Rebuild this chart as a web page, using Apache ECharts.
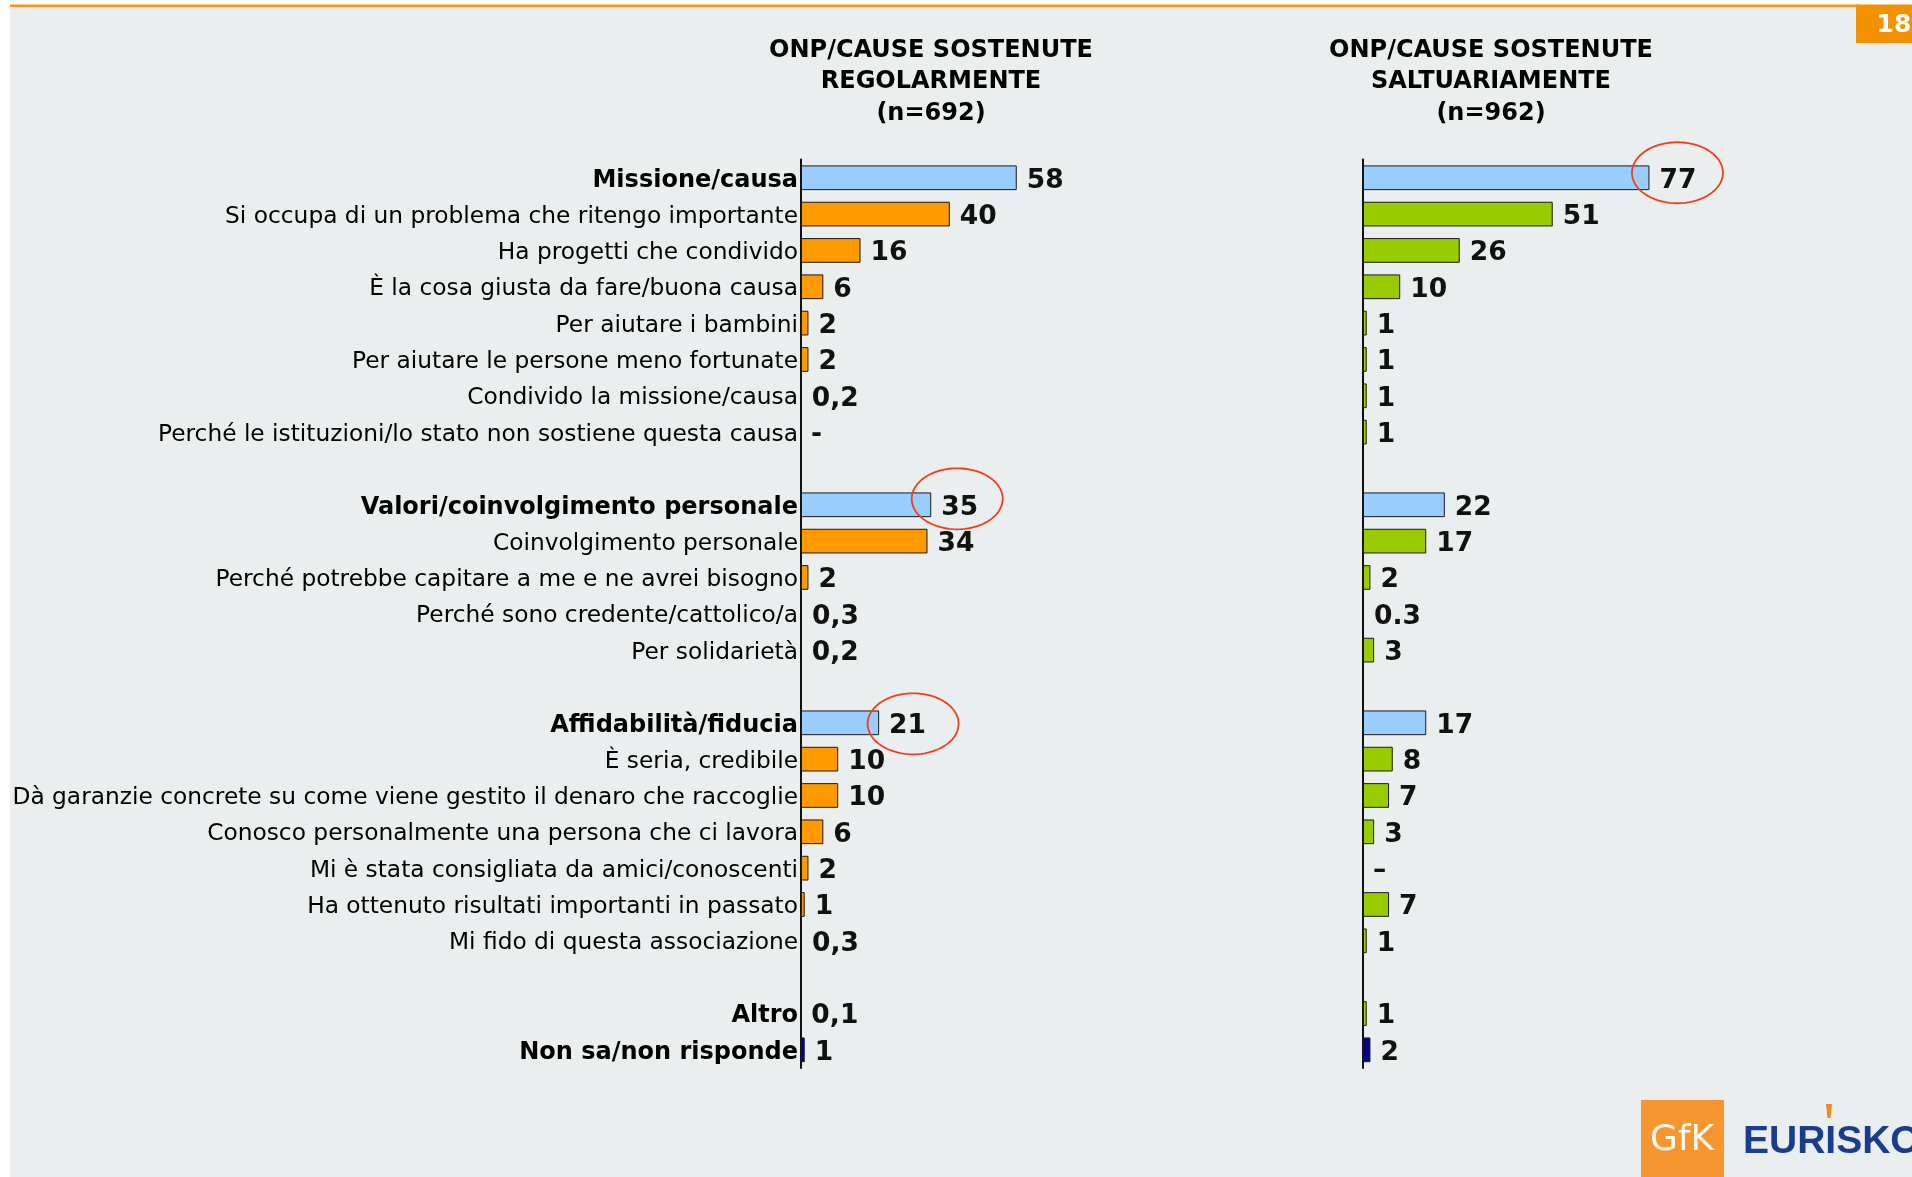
<!DOCTYPE html>
<html>
<head>
<meta charset="utf-8">
<script src="https://cdn.jsdelivr.net/npm/echarts@6/dist/echarts.min.js"></script>
<style>
html,body{margin:0;padding:0;background:#ffffff;}
#chart{width:1912px;height:1177px;}
</style>
</head>
<body>
<div id="chart"></div>
<script>
// ---- data ----
const categories = [
  'Missione/causa',
  'Si occupa di un problema che ritengo importante',
  'Ha progetti che condivido',
  'È la cosa giusta da fare/buona causa',
  'Per aiutare i bambini',
  'Per aiutare le persone meno fortunate',
  'Condivido la missione/causa',
  'Perché le istituzioni/lo stato non sostiene questa causa',
  ' ',
  'Valori/coinvolgimento personale',
  'Coinvolgimento personale',
  'Perché potrebbe capitare a me e ne avrei bisogno',
  'Perché sono credente/cattolico/a',
  'Per solidarietà',
  '  ',
  'Affidabilità/fiducia',
  'È seria, credibile',
  'Dà garanzie concrete su come viene gestito il denaro che raccoglie',
  'Conosco personalmente una persona che ci lavora',
  'Mi è stata consigliata da amici/conoscenti',
  'Ha ottenuto risultati importanti in passato',
  'Mi fido di questa associazione',
  '   ',
  'Altro',
  'Non sa/non risponde'
];
const boldCategories = ['Missione/causa', 'Valori/coinvolgimento personale', 'Affidabilità/fiducia', 'Altro', 'Non sa/non risponde'];
const groupHeaders = ['Missione/causa', 'Valori/coinvolgimento personale', 'Affidabilità/fiducia'];
const noAnswerCategory = 'Non sa/non risponde';

const regolarmente   = [58, 40, 16, 6, 2, 2, 0.2, 0, null, 35, 34, 2, 0.3, 0.2, null, 21, 10, 10, 6, 2, 1, 0.3, null, 0.1, 1];
const saltuariamente = [77, 51, 26, 10, 1, 1, 1, 1, null, 22, 17, 2, 0.3, 3, null, 17, 8, 7, 3, 0, 7, 1, null, 1, 2];

const panelTitles = ['ONP/CAUSE SOSTENUTE\nREGOLARMENTE\n(n=692)', 'ONP/CAUSE SOSTENUTE\nSALTUARIAMENTE\n(n=962)'];
const highlighted = [
  {panel: 1, category: 'Missione/causa'},
  {panel: 0, category: 'Valori/coinvolgimento personale'},
  {panel: 0, category: 'Affidabilità/fiducia'}
];
const pageNumber = '18';

// ---- styling / layout ----
const FONT = '"DejaVu Sans", Verdana, sans-serif';
const BLUE = '#99CCFF', ORANGE = '#FF9900', GREEN = '#99CC00', NAVY = '#000080';
const gridTop = 159.6, gridHeight = 908.4, axisMax = 100, plotWidth = 372;
const panels = [
  {left: 801, color: ORANGE, values: regolarmente, decimal: ',', dash: '-', showLabels: true},
  {left: 1363, color: GREEN, values: saltuariamente, decimal: '.', dash: '–', showLabels: false}
];

function buildData(p) {
  return p.values.map((v, i) => {
    if (v === null) return {value: null};
    const cat = categories[i];
    let color = p.color;
    if (groupHeaders.includes(cat)) color = BLUE;
    if (cat === noAnswerCategory) color = NAVY;
    const visible = v >= 0.5;
    return {
      value: v,
      itemStyle: visible ? {color: color, borderColor: '#1a1a1a', borderWidth: 1}
                         : {color: 'rgba(0,0,0,0)', borderWidth: 0}
    };
  });
}

const grids = [], xAxes = [], yAxes = [], series = [];
panels.forEach((p, k) => {
  grids.push({left: p.left, top: gridTop, width: plotWidth, height: gridHeight, containLabel: false});
  xAxes.push({type: 'value', gridIndex: k, min: 0, max: axisMax, show: false});
  yAxes.push({
    type: 'category', gridIndex: k, inverse: true, data: categories,
    axisLine: {show: true, lineStyle: {color: '#111', width: 2}},
    axisTick: {show: false},
    splitLine: {show: false},
    axisLabel: {
      show: p.showLabels, interval: 0, margin: 3,
      formatter: (val) => boldCategories.includes(val) ? '{b|' + val + '}' : '{n|' + val + '}',
      rich: {
        b: {fontFamily: FONT, fontSize: 24, fontWeight: 'bold', color: '#000', padding: [5, 0, 0, 0]},
        n: {fontFamily: FONT, fontSize: 23.3, color: '#000', padding: [5, 0, 0, 0]}
      }
    }
  });
  series.push({
    type: 'bar', xAxisIndex: k, yAxisIndex: k, barWidth: '68%',
    data: buildData(p),
    animation: false,
    label: {
      show: true, position: 'right', distance: 10, offset: [0, 3],
      fontFamily: FONT, fontSize: 26.5, fontWeight: 'bold', color: '#111',
      formatter: (prm) => prm.value === 0 ? p.dash : String(prm.value).replace('.', p.decimal)
    }
  });
});

const chart = echarts.init(document.getElementById('chart'), null, {renderer: 'canvas'});

const baseGraphics = [
  {type: 'rect', z: -10, shape: {x: 10, y: 7, width: 1902, height: 1170}, style: {fill: '#EAEEEE'}},
  {type: 'rect', z: -9, shape: {x: 10, y: 4.5, width: 1850, height: 2.5}, style: {fill: '#F7931E'}},
  {type: 'rect', z: -9, shape: {x: 1856, y: 4.5, width: 56, height: 38.5}, style: {fill: '#F39200'}},
  {type: 'text', style: {text: pageNumber, x: 1894, y: 25, textAlign: 'center', textVerticalAlign: 'middle',
    font: 'bold 25px ' + FONT, fill: '#ffffff'}},
  {type: 'text', style: {text: panelTitles[0], x: 931, y: 34.5, textAlign: 'center', textVerticalAlign: 'top',
    font: 'bold 24px ' + FONT, lineHeight: 31.6, fill: '#000'}},
  {type: 'text', style: {text: panelTitles[1], x: 1491, y: 34.5, textAlign: 'center', textVerticalAlign: 'top',
    font: 'bold 24px ' + FONT, lineHeight: 31.6, fill: '#000'}},
  // logo
  {type: 'rect', shape: {x: 1641, y: 1100, width: 83, height: 77}, style: {fill: '#F7952F'}},
  {type: 'text', style: {text: 'GfK', x: 1682, y: 1141, textAlign: 'center', textVerticalAlign: 'middle',
    font: '36px ' + FONT, fill: '#FFF8EC'}},
  {type: 'text', style: {text: 'EURISKO', x: 1743, y: 1142, textAlign: 'left', textVerticalAlign: 'middle',
    font: 'bold 39px "Liberation Sans", Arial, sans-serif', fill: '#1B3C8C'}},
  {type: 'polygon', shape: {points: [[1826, 1104], [1832, 1104], [1830.5, 1118], [1827.5, 1118]]}, style: {fill: '#F08A1C'}}
];

chart.setOption({
  backgroundColor: 'transparent',
  animation: false,
  grid: grids, xAxis: xAxes, yAxis: yAxes, series: series,
  graphic: baseGraphics
});

// red ellipses highlighting selected values, positioned from the axes
const ellipseOffsets = [{dx: 28, dy: -5}, {dx: 26, dy: -6}, {dx: 34, dy: 1}];
const ellipses = highlighted.map((h, j) => {
  const p = panels[h.panel];
  const idx = categories.indexOf(h.category);
  const pt = chart.convertToPixel({gridIndex: h.panel}, [p.values[idx], idx]);
  const cx = pt[0] + ellipseOffsets[j].dx, cy = pt[1] + ellipseOffsets[j].dy;
  const rx = 45.5, ry = 30.5, pts = [];
  for (let t = 0; t <= 72; t++) {
    const a = t / 72 * Math.PI * 2;
    pts.push([cx + rx * Math.cos(a), cy + ry * Math.sin(a)]);
  }
  return {type: 'polyline', z: 20, shape: {points: pts}, style: {stroke: '#F0401A', lineWidth: 1.8, fill: null}};
});
chart.setOption({graphic: baseGraphics.concat(ellipses)});
</script>
</body>
</html>
